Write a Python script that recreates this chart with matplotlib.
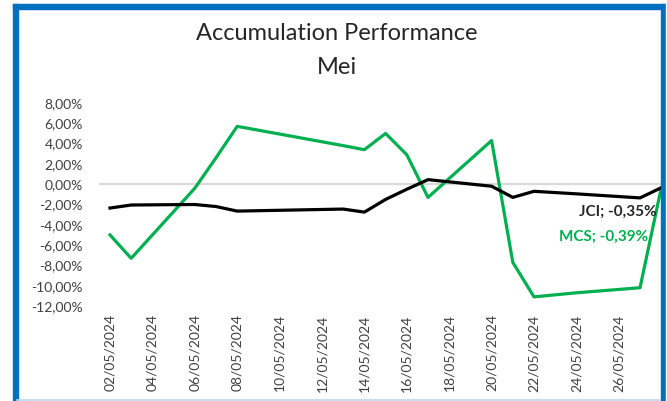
import numpy as np
import pandas as pd
import matplotlib
matplotlib.use("Agg")
import matplotlib.pyplot as plt
from matplotlib.patches import Rectangle
from matplotlib.lines import Line2D

plt.rcParams['font.family'] = ['Lato', 'DejaVu Sans']

# data
dates = ['02/05/2024', '03/05/2024', '06/05/2024', '07/05/2024', '08/05/2024',
         '13/05/2024', '14/05/2024', '15/05/2024', '16/05/2024', '17/05/2024',
         '20/05/2024', '21/05/2024', '22/05/2024', '24/05/2024', '27/05/2024',
         '28/05/2024']
jci = [-2.35, -2.05, -2.0, -2.2, -2.65, -2.45, -2.75, -1.5, -0.5, 0.45,
       -0.2, -1.3, -0.7, -0.95, -1.35, -0.35]
mcs = [-5.0, -7.3, -0.4, 2.6, 5.7, 3.8, 3.4, 5.0, 2.9, -1.3,
       4.3, -7.7, -11.1, -10.7, -10.2, -0.39]
yticks = [8, 6, 4, 2, 0, -2, -4, -6, -8, -10, -12]
xtick_days = [2, 4, 6, 8, 10, 12, 14, 16, 18, 20, 22, 24, 26]

W, H = 667, 401
fig = plt.figure(figsize=(W / 100, H / 100), dpi=100)

def fx(p):
    return p / W

def fy(p):
    return 1 - p / H

# day numbers as x
d = pd.to_datetime(dates, format='%d/%m/%Y')
x = np.array([t.day for t in d])

# axes geometry in pixels (extends past right edge like the cropped screenshot)
px_day = 21.2
x0_pix = 110
left_pix = x0_pix - 0.5 * px_day
right_pix = x0_pix + 29.5 * px_day
top_pix, bot_pix = 103, 306
ax = fig.add_axes([fx(left_pix), fy(bot_pix), fx(right_pix - left_pix), (bot_pix - top_pix) / H])
ax.set_xlim(1.5, 31.5)
ax.set_ylim(-12, 8)

ax.axhline(0, color='#d9d9d9', lw=1.6, zorder=1)
ax.plot(x, mcs, color='#00b050', lw=2.3, zorder=3, solid_joinstyle='round')
ax.plot(x, jci, color='black', lw=2.3, zorder=4, solid_joinstyle='round')

ax.set_yticks(yticks)
ax.set_yticklabels([('%.2f%%' % v).replace('.', ',') for v in yticks])
ax.set_xticks(xtick_days)
ax.set_xticklabels(['%02d/05/2024' % v for v in xtick_days], rotation=90)
ax.tick_params(axis='y', length=0, pad=12, labelsize=10, colors='#404040')
ax.tick_params(axis='x', length=0, pad=6, labelsize=10, colors='#404040')
for s in ax.spines.values():
    s.set_visible(False)

ax.annotate('JCI; -0,35%', (x[-1], jci[-1]), xytext=(-5, -24), textcoords='offset pixels',
            ha='right', va='center', fontsize=11, fontweight='bold', color='#262626')
ax.annotate('MCS; -0,39%', (x[-1], mcs[-1]), xytext=(-13, -49), textcoords='offset pixels',
            ha='right', va='center', fontsize=11, fontweight='bold', color='#00b050')

fig.text(fx(337), fy(33), 'Accumulation Performance', ha='center', va='center',
         fontsize=17, color='#262626')
fig.text(fx(337), fy(67), 'Mei', ha='center', va='center', fontsize=17, color='#262626')

# frame of the screenshot
blue = '#0070c0'
fig.add_artist(Rectangle((fx(12.5), 0), fx(5), fy(4), transform=fig.transFigure,
                         color=blue, zorder=10))
fig.add_artist(Rectangle((fx(660.5), 0), fx(5), fy(4), transform=fig.transFigure,
                         color=blue, zorder=10))
fig.add_artist(Rectangle((fx(12.5), fy(9)), fx(653), 5 / H, transform=fig.transFigure,
                         color=blue, zorder=10))
fig.add_artist(Rectangle((fx(665.5), 0), fx(2), 1, transform=fig.transFigure,
                         color='white', zorder=10))
fig.add_artist(Line2D([fx(17), fx(660)], [fy(400), fy(400)], transform=fig.transFigure,
                      color='#bdd7ee', lw=1.2, zorder=10))

fig.savefig('out.png', dpi=100)
